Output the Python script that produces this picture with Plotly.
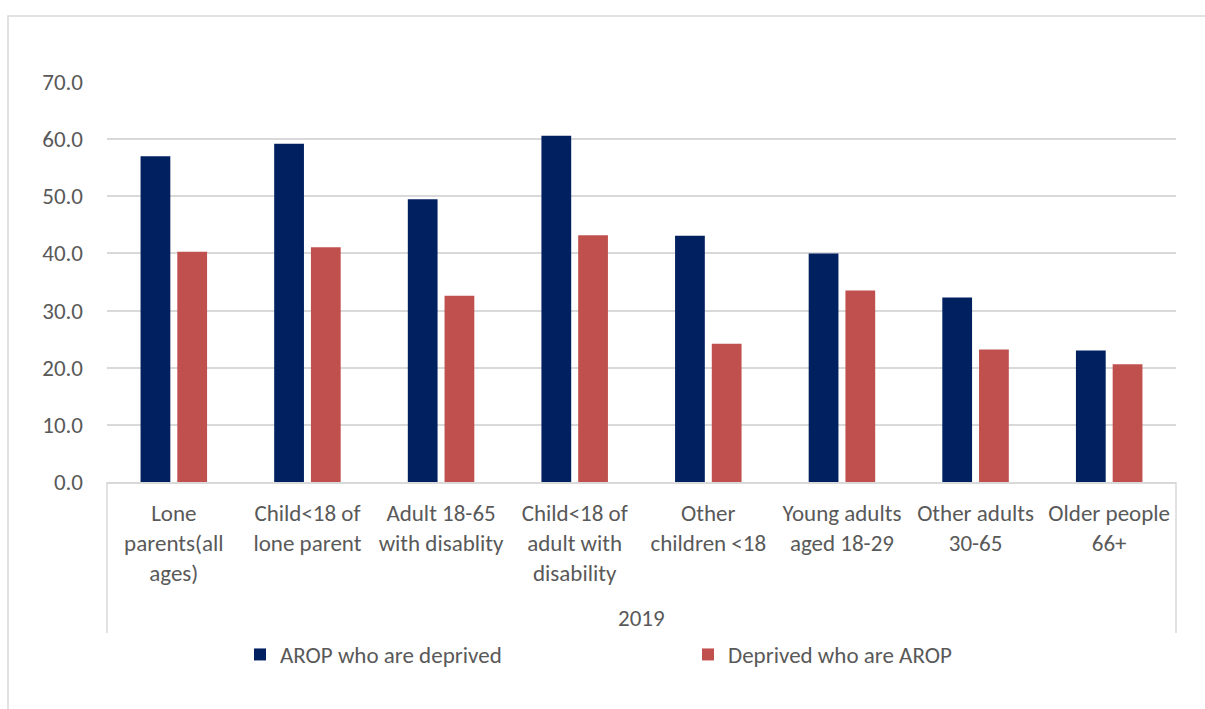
import plotly.graph_objects as go

categories = [
    "Lone<br>parents(all<br>ages)",
    "Child&lt;18 of<br>lone parent",
    "Adult 18-65<br>with disablity",
    "Child&lt;18 of<br>adult with<br>disability",
    "Other<br>children &lt;18",
    "Young adults<br>aged 18-29",
    "Other adults<br>30-65",
    "Older people<br>66+",
]
group_label = "2019"
arop_deprived = [57.0, 59.2, 49.5, 60.6, 43.1, 40.0, 32.3, 23.0]
deprived_arop = [40.3, 41.1, 32.6, 43.2, 24.2, 33.5, 23.2, 20.6]
series_names = ["AROP who are deprived", "Deprived who are AROP"]
colors = ["#002060", "#C0504D"]

W, H = 1205, 709
L, R, T, B = 107, 29, 82, 227
PW = W - L - R
PH = H - T - B

def px_x(p):
    return (p - L) / PW

def px_y(p):
    return (H - B - p) / PH

FONT = "Carlito, Calibri, Lato, sans-serif"
TXT = "#595959"
FS = 23
GRID = "#d9d9d9"

fig = go.Figure()
fig.add_trace(go.Bar(x=categories, y=arop_deprived, name=series_names[0],
                     marker=dict(color=colors[0], line=dict(width=0))))
fig.add_trace(go.Bar(x=categories, y=deprived_arop, name=series_names[1],
                     marker=dict(color=colors[1], line=dict(width=0))))

fig.update_layout(
    width=W, height=H,
    margin=dict(l=L, r=R, t=T, b=B, autoexpand=False),
    paper_bgcolor="white", plot_bgcolor="white",
    font=dict(family=FONT, size=FS, color=TXT),
    barmode="group", bargap=0.45, bargroupgap=0.19,
    showlegend=True,
    legend=dict(orientation="h", x=px_x(240), y=px_y(633), xanchor="left", yanchor="top",
                entrywidth=403, entrywidthmode="pixels",
                font=dict(family=FONT, size=FS, color=TXT), bgcolor="rgba(0,0,0,0)"),
    shapes=[
        dict(type="rect", xref="paper", yref="paper",
             x0=px_x(8), x1=px_x(1215), y0=px_y(718), y1=px_y(16),
             line=dict(color=GRID, width=1.5), fillcolor="rgba(0,0,0,0)", layer="below"),
        dict(type="line", xref="paper", yref="paper", x0=0, x1=0, y0=0, y1=px_y(633),
             line=dict(color=GRID, width=1.5)),
        dict(type="line", xref="paper", yref="paper", x0=1, x1=1, y0=0, y1=px_y(633),
             line=dict(color=GRID, width=1.5)),
    ],
    annotations=[dict(text=group_label, xref="paper", yref="paper", x=0.5, y=px_y(618),
                      xanchor="center", yanchor="middle", showarrow=False,
                      font=dict(family=FONT, size=FS, color=TXT))],
)
fig.update_xaxes(
    type="category", showline=True, linecolor=GRID, linewidth=1.5,
    showgrid=False, ticks="", ticklabelstandoff=10,
    tickfont=dict(family=FONT, size=FS, color=TXT),
)
fig.update_yaxes(
    range=[0, 70], dtick=10, tickformat=".1f", showgrid=True, gridcolor=GRID, gridwidth=1.5,
    zeroline=False, showline=False, ticks="", ticklabelstandoff=23,
    tickfont=dict(family=FONT, size=FS, color=TXT),
)

fig.write_html("out.html")
